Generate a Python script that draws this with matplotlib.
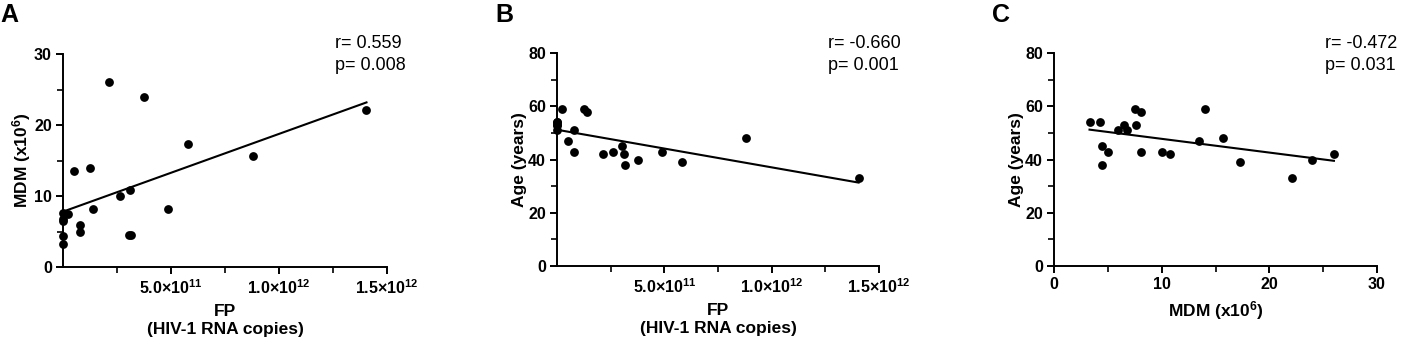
import numpy as np
import matplotlib
matplotlib.use("Agg")
import matplotlib.pyplot as plt
from matplotlib.ticker import FixedLocator

plt.rcParams['font.family'] = ['Liberation Sans', 'DejaVu Sans']
plt.rcParams['mathtext.fontset'] = 'custom'
plt.rcParams['mathtext.rm'] = 'Liberation Sans:bold'
plt.rcParams['mathtext.bf'] = 'Liberation Sans:bold'
plt.rcParams['mathtext.it'] = 'Liberation Sans:bold'

# Data: one entry per subject
fp = np.array([0.02, 0.02, 0.02, 0.02, 0.02, 0.22, 0.52, 0.80, 0.77, 1.24, 1.38,
               2.15, 2.62, 3.05, 3.15, 3.12, 3.77, 4.88, 5.80, 8.80, 14.05]) * 1e11
mdm = np.array([3.3, 4.3, 6.5, 7.6, 6.8, 7.5, 13.5, 5.9, 5.0, 14.0, 8.1,
                26.0, 10.0, 4.5, 4.5, 10.8, 24.0, 8.1, 17.3, 15.7, 22.1])
age = np.array([54, 54, 53, 53, 51, 59, 47, 51, 43, 59, 58,
                42, 43, 45, 38, 42, 40, 43, 39, 48, 33])

stats_A = ("0.559", "0.008")
stats_B = ("-0.660", "0.001")
stats_C = ("-0.472", "0.031")

fp_ticks = [5e11, 1e12, 1.5e12]
fp_ticklabels = ["5.0×10$^{11}$", "1.0×10$^{12}$", "1.5×10$^{12}$"]

fig = plt.figure(figsize=(14.01, 3.46), dpi=100)

W, H = 1401, 346
def ax_at(left, right, top, bottom):
    return fig.add_axes([left / W, 1 - bottom / H, (right - left) / W, (bottom - top) / H])

axA = ax_at(63, 387, 54, 267)
axB = ax_at(557, 879, 53, 266)
axC = ax_at(1054, 1377, 53, 266)

def style(ax):
    for s in ['top', 'right']:
        ax.spines[s].set_visible(False)
    for s in ['left', 'bottom']:
        ax.spines[s].set_linewidth(1.4)
        ax.spines[s].set_color('black')
    ax.tick_params(which='major', direction='out', length=5, width=1.4, labelsize=11.5, pad=3)
    ax.tick_params(which='minor', direction='out', length=4, width=1.2)
    for lab in ax.get_xticklabels() + ax.get_yticklabels():
        lab.set_fontweight('bold')

def scatter_fit(ax, x, y):
    ax.scatter(x, y, s=40, color='black', zorder=3, clip_on=False, linewidths=0)
    k, b = np.polyfit(x, y, 1)
    xx = np.array([x.min(), x.max()])
    ax.plot(xx, k * xx + b, color='black', lw=1.5, zorder=2)

LBL = 12.5

# Panel A
scatter_fit(axA, fp, mdm)
axA.set_xlim(0, 1.5e12)
axA.set_ylim(0, 30)
axA.xaxis.set_major_locator(FixedLocator(fp_ticks))
axA.set_xticklabels(fp_ticklabels)
axA.xaxis.set_minor_locator(FixedLocator([2.5e11, 7.5e11, 1.25e12]))
axA.yaxis.set_major_locator(FixedLocator([0, 10, 20, 30]))
axA.yaxis.set_minor_locator(FixedLocator([5, 15, 25]))
style(axA)
axA.set_ylabel("MDM (x10$^6$)", fontsize=LBL, fontweight='bold', labelpad=1)
axA.set_xlabel("FP\n(HIV-1 RNA copies)", fontsize=LBL, fontweight='bold', labelpad=5, linespacing=1.25)

# Panel B
scatter_fit(axB, fp, age)
axB.set_xlim(0, 1.5e12)
axB.set_ylim(0, 80)
axB.xaxis.set_major_locator(FixedLocator(fp_ticks))
axB.set_xticklabels(fp_ticklabels)
axB.xaxis.set_minor_locator(FixedLocator([2.5e11, 7.5e11, 1.25e12]))
axB.yaxis.set_major_locator(FixedLocator([0, 20, 40, 60, 80]))
axB.yaxis.set_minor_locator(FixedLocator([10, 30, 50, 70]))
style(axB)
axB.set_ylabel("Age (years)", fontsize=LBL, fontweight='bold', labelpad=1)
axB.set_xlabel("FP\n(HIV-1 RNA copies)", fontsize=LBL, fontweight='bold', labelpad=5, linespacing=1.25)

# Panel C
scatter_fit(axC, mdm, age)
axC.set_xlim(0, 30)
axC.set_ylim(0, 80)
axC.xaxis.set_major_locator(FixedLocator([0, 10, 20, 30]))
axC.xaxis.set_minor_locator(FixedLocator([5, 15, 25]))
axC.yaxis.set_major_locator(FixedLocator([0, 20, 40, 60, 80]))
axC.yaxis.set_minor_locator(FixedLocator([10, 30, 50, 70]))
style(axC)
axC.set_ylabel("Age (years)", fontsize=LBL, fontweight='bold', labelpad=1)
axC.set_xlabel("MDM (x10$^6$)", fontsize=LBL, fontweight='bold', labelpad=5)

# Stats text
for (xpx, st) in [(335, stats_A), (828, stats_B), (1325, stats_C)]:
    fig.text(xpx / W, 1 - 43 / H, "r= " + st[0], fontsize=13, va='center', ha='left')
    fig.text(xpx / W, 1 - 66 / H, "p= " + st[1], fontsize=13, va='center', ha='left')

# Panel letters
for xpx, letter in [(0, "A"), (495, "B"), (992, "C")]:
    fig.text(xpx / W, 1 - 15 / H, letter, fontsize=18, fontweight='bold', va='center', ha='left')

fig.savefig("out.png", dpi=100)
